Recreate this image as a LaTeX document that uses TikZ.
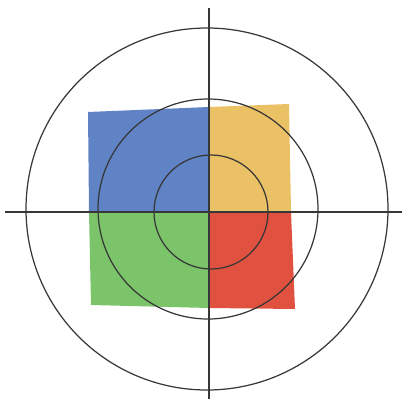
\documentclass[tikz,border=0pt]{standalone}
\usepackage[dvipsnames]{xcolor}
\usepackage{tikz}

\definecolor{azul}{RGB}{96,131,197}
\definecolor{amarillo}{RGB}{235,193,102}
\definecolor{verde}{RGB}{123,196,106}
\definecolor{rojo}{RGB}{224,81,64}
\definecolor{trazo}{RGB}{55,55,55}

\begin{document}
\begin{tikzpicture}[x=0.02cm, y=-0.02cm]
            \useasboundingbox (0,0) rectangle (402,399);
            \coordinate (O) at (209,212);

            % cuadrantes coloreados, ligeramente torcidos
            \fill[azul] (88,112) -- (209,107) -- (209,212) -- (89,212) -- cycle;
            \fill[amarillo] (209,107) -- (289,104) -- (291,212) -- (209,212) -- cycle;
            \fill[verde] (89,212) -- (209,212) -- (209,308) -- (91,305) -- cycle;
            \fill[rojo] (209,212) -- (291,212) -- (295,309) -- (209,308) -- cycle;

            \draw[trazo, line width=0.7pt] (211,212) circle (57);
            \draw[trazo, line width=0.7pt] (208,209) circle (110);
            \draw[trazo, line width=0.7pt] (207,209) circle (181);

            \draw[trazo, line width=1.1pt] (5,212) -- (402,212);
            \draw[trazo, line width=1.1pt] (209,8) -- (209,399);
        \end{tikzpicture}
\end{document}
